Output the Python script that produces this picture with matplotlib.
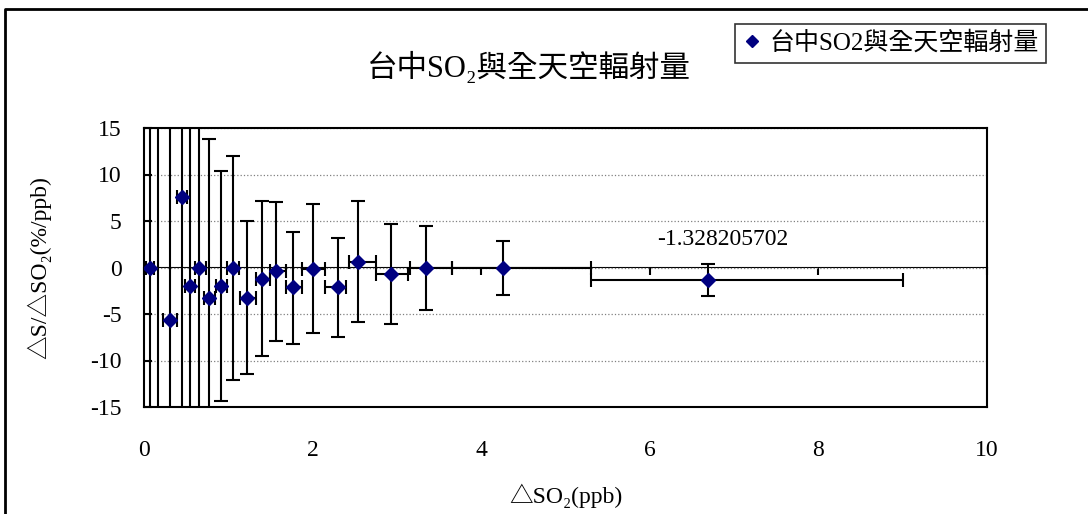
import matplotlib
matplotlib.use("Agg")
import matplotlib.pyplot as plt
from matplotlib.lines import Line2D
import numpy as np

plt.rcParams['font.family'] = ['Liberation Serif', 'Noto Sans CJK TC', 'DejaVu Sans']
plt.rcParams['axes.unicode_minus'] = False

# bin centre, bin range (x), mean and range (y)
x = [0.07, 0.17, 0.31, 0.45, 0.55, 0.65, 0.77, 0.91, 1.06, 1.22,
     1.40, 1.57, 1.77, 2.01, 2.30, 2.54, 2.93, 3.35, 4.26, 6.69]
x_lo = [0.02, 0.12, 0.23, 0.39, 0.49, 0.60, 0.71, 0.86, 0.98, 1.14,
        1.33, 1.49, 1.68, 1.87, 2.15, 2.43, 2.75, 3.15, 3.65, 5.30]
x_hi = [0.12, 0.23, 0.39, 0.51, 0.61, 0.73, 0.84, 0.98, 1.13, 1.33,
        1.49, 1.68, 1.87, 2.15, 2.40, 2.75, 3.13, 3.65, 5.30, 9.00]
y = [0.0, -18.0, -5.6, 7.6, -2.0, 0.0, -3.3, -2.0, 0.0, -3.3,
     -1.2, -0.35, -2.15, -0.2, -2.15, 0.58, -0.68, 0.0, 0.0, -1.328205702]
y_lo = [-25, -40, -25, -25, -25, -25, -20, -14.4, -12.1, -11.5,
        -9.5, -7.9, -8.2, -7.05, -7.5, -5.9, -6.1, -4.6, -3.0, -3.1]
y_hi = [25, 20, 25, 25, 25, 25, 13.8, 10.4, 12.0, 5.05,
        7.2, 7.0, 3.8, 6.8, 3.2, 7.2, 4.7, 4.5, 2.9, 0.43]

x = np.array(x); y = np.array(y)
xerr = [x - np.array(x_lo), np.array(x_hi) - x]
yerr = [y - np.array(y_lo), np.array(y_hi) - y]

fig = plt.figure(figsize=(10.88, 5.14), dpi=100)
ax = fig.add_axes([144/1088, 1-407/514, 843/1088, 279/514])

ax.errorbar(x, y, xerr=xerr, yerr=yerr, fmt='D', color='#000080', ms=7.5,
            ecolor='black', elinewidth=1.5, capsize=5, capthick=1.5, zorder=3)

ax.set_xlim(0, 10)
ax.set_ylim(-15, 15)
ax.set_xticks(range(0, 11, 2))
ax.set_yticks(range(-15, 16, 5))
ax.yaxis.grid(True, linestyle=':', color='gray', linewidth=0.9)
ax.set_axisbelow(True)
for s in ax.spines.values():
    s.set_linewidth(1.5)
ax.tick_params(axis='x', length=0, labelsize=17, pad=24)
ax.tick_params(axis='y', direction='in', length=6, width=1.5, labelsize=17, pad=16)

# x axis crossing at y = 0 (ticks only)
sec = ax.secondary_xaxis(0.5)
sec.set_xticks(range(0, 11, 2))
sec.tick_params(direction='in', length=6, width=1.5, labelbottom=False, labeltop=False)
sec.spines['bottom'].set_linewidth(1.5)

ax.annotate('-1.328205702', xy=(x[-1], y[-1]), xytext=(11, 29),
            textcoords='offset points', ha='center', va='center', fontsize=17)

ax.set_xlabel('△SO₂(ppb)', fontsize=17)
ax.set_ylabel('△S/△SO₂(%/ppb)', fontsize=17)
ax.xaxis.set_label_coords(0.5, -0.275)
ax.yaxis.set_label_coords(-0.11, 0.5)

fig.text(529/1088, 1-68/514, '台中SO₂與全天空輻射量', ha='center', va='center', fontsize=22)

h = Line2D([], [], marker='D', color='#000080', linestyle='none', ms=6)
leg = fig.legend([h], ['台中SO2與全天空輻射量'], loc='upper right',
                 bbox_to_anchor=(1046/1088, 1-24/514), fontsize=18, frameon=True,
                 fancybox=False, edgecolor='black', borderpad=0.3,
                 handlelength=0.7, handletextpad=0.35, borderaxespad=0)
leg.get_frame().set_linewidth(1.2)

# chart area border
fig.add_artist(Line2D([5/1088, 5/1088, 1], [0, 1-9/514, 1-9/514],
                      transform=fig.transFigure, color='black', linewidth=2))

fig.savefig('out.png', dpi=100)
